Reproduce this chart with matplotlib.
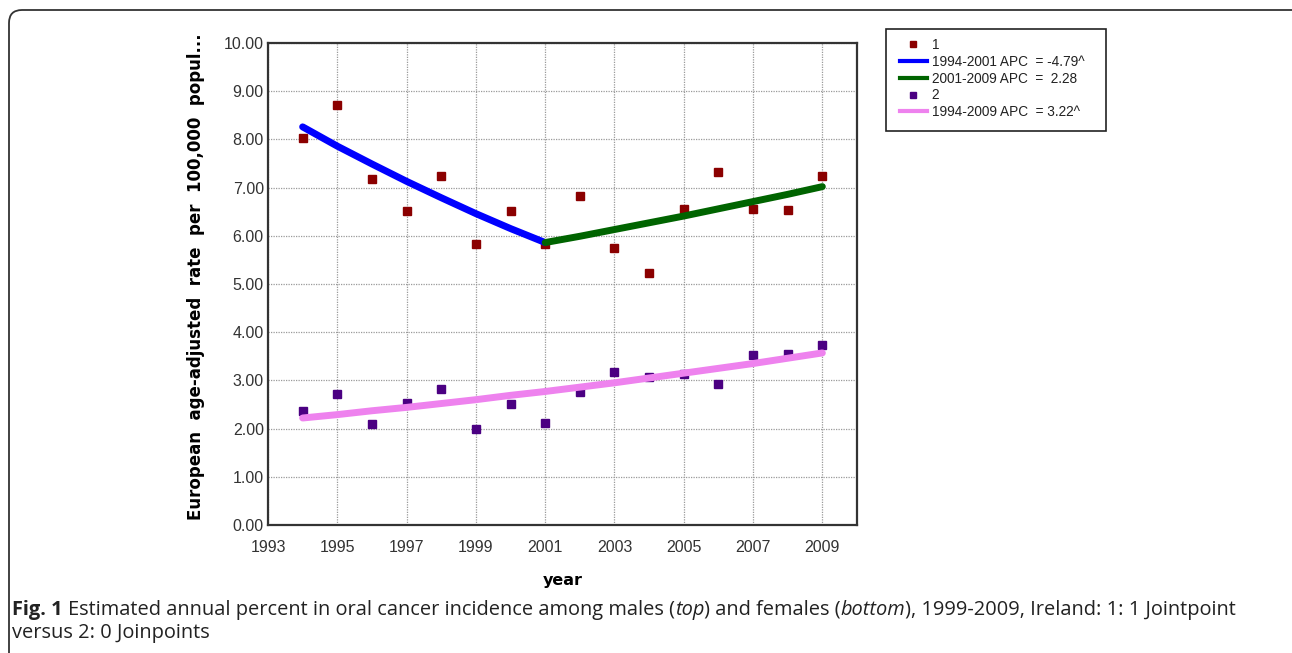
import matplotlib
matplotlib.use("Agg")
import matplotlib.pyplot as plt
from matplotlib.patches import FancyBboxPatch, Rectangle
from matplotlib.lines import Line2D

# ---- data ----
years = list(range(1994, 2010))
male_obs = [8.02, 8.71, 7.18, 6.52, 7.25, 5.82, 6.51, 5.83, 6.82, 5.75, 5.23, 6.56, 7.33, 6.55, 6.54, 7.24]
female_obs = [2.37, 2.72, 2.09, 2.54, 2.82, 1.99, 2.51, 2.12, 2.76, 3.18, 3.08, 3.14, 2.93, 3.52, 3.55, 3.73]
seg1_years = list(range(1994, 2002))
seg1_fit = [8.26, 7.86, 7.49, 7.13, 6.79, 6.46, 6.15, 5.86]
seg2_years = list(range(2001, 2010))
seg2_fit = [5.86, 5.99, 6.13, 6.27, 6.41, 6.56, 6.71, 6.86, 7.02]
fem_fit = [2.22, 2.29, 2.37, 2.44, 2.52, 2.60, 2.69, 2.77, 2.86, 2.95, 3.05, 3.15, 3.25, 3.35, 3.46, 3.57]
xticks = [1993, 1995, 1997, 1999, 2001, 2003, 2005, 2007, 2009]
yticks = [0, 1, 2, 3, 4, 5, 6, 7, 8, 9, 10]
labels = ["1", "1994-2001 APC  = -4.79^", "2001-2009 APC  =  2.28", "2", "1994-2009 APC  = 3.22^"]

W, H = 1292, 653
fig = plt.figure(figsize=(W / 100, H / 100), dpi=100)

# outer rounded frame in pixel coordinates (runs off the right and bottom edges)
frame = FancyBboxPatch((9, -30), 1310, (H - 10) + 30,
                       boxstyle="round,pad=0,rounding_size=13",
                       transform=None, facecolor="none",
                       edgecolor="#333333", linewidth=1.3, clip_on=False)
fig.patches.append(frame)

ax = fig.add_axes([268 / W, 1 - 525 / H, (857 - 268) / W, (525 - 43) / H])
ax.set_xlim(1993, 2010)
ax.set_ylim(0, 10)
ax.set_xticks(xticks)
ax.set_yticks(yticks)
ax.set_yticklabels([f"{v:.2f}" for v in yticks])
ax.tick_params(length=0, labelsize=11.5, colors="#333333")
ax.tick_params(axis="x", pad=11)
ax.tick_params(axis="y", pad=3)
for lab in ax.get_xticklabels() + ax.get_yticklabels():
    lab.set_fontfamily("Liberation Sans")
ax.grid(True, linestyle=(0, (1, 1)), color="#9a9a9a", linewidth=0.9)
ax.set_axisbelow(True)
for s in ax.spines.values():
    s.set_color("#333333")
    s.set_linewidth(1.6)

ax.plot(years, male_obs, linestyle="none", marker="s", markersize=5.2, color="#8b0000", zorder=2)
ax.plot(years, female_obs, linestyle="none", marker="s", markersize=5.2, color="#4b0082", zorder=2)
ax.plot(seg1_years, seg1_fit, color="#0000ff", linewidth=5, solid_capstyle="round", zorder=3)
ax.plot(seg2_years, seg2_fit, color="#006400", linewidth=5, solid_capstyle="round", zorder=3)
ax.plot(years, fem_fit, color="#ee82ee", linewidth=5, solid_capstyle="round", zorder=3)

ax.set_xlabel("year", fontsize=11.5, fontweight="bold", labelpad=13)
ax.set_ylabel("European  age-adjusted  rate  per  100,000  popul...", fontsize=12,
              fontweight="bold")
ax.yaxis.set_label_coords(-0.107, 0.515)

# legend with a separate frame box
handles = [
    Line2D([], [], linestyle="none", marker="s", markersize=4.2, color="#8b0000"),
    Line2D([], [], color="#0000ff", linewidth=3),
    Line2D([], [], color="#006400", linewidth=3),
    Line2D([], [], linestyle="none", marker="s", markersize=4.2, color="#4b0082"),
    Line2D([], [], color="#ee82ee", linewidth=3),
]
leg = fig.legend(handles, labels, loc="upper left",
                 bbox_to_anchor=(893 / W, 1 - 31 / H), frameon=False,
                 borderpad=0.0, handlelength=2.0, handletextpad=0.35,
                 labelspacing=0.21, prop={"family": "Liberation Sans", "size": 9.8})
for t in leg.get_texts():
    t.set_color("#222222")
fig.patches.append(Rectangle((886 / W, 1 - 131 / H), (1106 - 886) / W, (131 - 29) / H,
                             transform=fig.transFigure, facecolor="none",
                             edgecolor="#222222", linewidth=1.2))

# caption
cap_font = ["Open Sans", "DejaVu Sans"]
cap_color = "#222222"
y1, y2 = 1 - 610 / H, 1 - 633 / H
pieces = [("Estimated annual percent in oral cancer incidence among males (", "normal"),
          ("top", "italic"), (") and females (", "normal"), ("bottom", "italic"),
          ("), 1999-2009, Ireland: 1: 1 Jointpoint", "normal")]


def draw_caption(fs):
    made = []
    t1 = fig.text(12 / W, y1, "Fig. 1", fontsize=fs, fontweight="bold",
                  family=cap_font, va="center", ha="left", color=cap_color)
    made.append(t1)
    fig.canvas.draw()
    x = t1.get_window_extent().x1 + 5
    for txt, style in pieces:
        t = fig.text(x / W, y1, txt, fontsize=fs, family=cap_font, style=style,
                     va="center", ha="left", color=cap_color)
        made.append(t)
        fig.canvas.draw()
        x = t.get_window_extent().x1
    return made, x


made, xend = draw_caption(12)
for t in made:
    t.remove()
fs = 12 * (1232 - 12) / (xend - 12)
draw_caption(fs)
fig.text(12 / W, y2, "versus 2: 0 Joinpoints", fontsize=fs,
         family=cap_font, va="center", ha="left", color=cap_color)

fig.savefig("out.png", dpi=100)
